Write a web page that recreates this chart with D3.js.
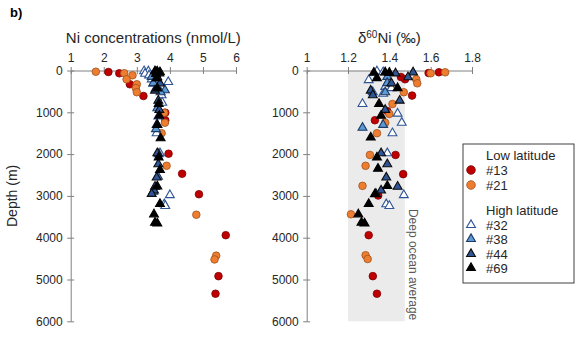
<!DOCTYPE html>
<html><head><meta charset="utf-8">
<script src="https://cdn.jsdelivr.net/npm/d3@7"></script>
<style>
body{margin:0;background:#fff;}
svg{display:block;font-family:"Liberation Sans",Arial,sans-serif;}
</style></head><body>
<svg id="c" width="584" height="339"></svg>
<script>
// ---- data: [depth (m), value] ----
const depthTicks = [0,1000,2000,3000,4000,5000,6000];
const niTicks = [1,2,3,4,5,6];
const isoTicks = [1,1.2,1.4,1.6,1.8];
const deepBand = [1.2,1.475];

const ni13 = [[36,2.14],[67,2.47],[330,2.79],[610,3.2],[1010,3.86],[1190,3.86],[1990,3.96],[2470,4.37],[2960,4.88],[3940,5.69],[4920,5.47],[5340,5.38]];
const ni21 = [[30,1.76],[65,2.62],[115,2.87],[210,2.69],[330,3.0],[420,2.97],[520,3.0],[1010,3.83],[1250,3.85],[1500,3.75],[2280,3.9],[3450,4.8],[4430,5.4],[4520,5.35]];
const ni32 = [[15,3.22],[20,3.35],[77,3.25],[115,3.37],[210,3.45],[275,3.95],[315,3.5],[435,3.57],[590,3.75],[770,3.77],[1100,3.65],[1300,3.62],[1500,3.6],[1980,3.7],[2980,4.0],[3200,3.83],[3240,3.86]];
const ni38 = [[150,3.45],[300,3.5],[470,3.85],[520,3.72],[900,3.62],[1300,3.6],[1400,3.58],[2000,3.66],[2540,3.64],[2900,3.5]];
const ni44 = [[40,3.6],[70,3.68],[160,3.62],[310,3.7],[480,3.55],[720,3.65],[940,3.68],[1980,3.62],[2240,3.65],[2560,3.6],[2780,3.55],[2870,3.52],[2950,3.45]];
const ni69 = [[15,3.55],[25,3.62],[40,3.7],[80,3.58],[190,3.6],[430,3.62],[800,3.66],[1080,3.68],[1300,3.62],[1620,3.72],[2080,3.66],[2380,3.7],[2770,3.62],[3190,3.7],[3440,3.52],[3640,3.55],[3660,3.62]];

const iso13 = [[43,1.64],[60,1.59],[155,1.456],[210,1.476],[600,1.51],[970,1.39],[1190,1.33],[2020,1.43],[2480,1.467],[2990,1.346],[3940,1.30],[4920,1.32],[5340,1.34]];
const iso21 = [[43,1.67],[67,1.60],[210,1.53],[306,1.535],[520,1.47],[800,1.415],[1040,1.40],[1250,1.38],[1500,1.34],[2020,1.306],[2280,1.285],[2760,1.27],[3440,1.214],[4420,1.285],[4510,1.295]];
const iso32 = [[20,1.34],[40,1.37],[230,1.30],[390,1.38],[420,1.41],[515,1.32],[555,1.37],[800,1.27],[1030,1.44],[1250,1.46],[1500,1.415],[1980,1.39],[2980,1.47],[3200,1.385],[3240,1.40]];
const iso38 = [[150,1.39],[300,1.39],[520,1.38],[1300,1.37],[1370,1.27]];
const iso44 = [[43,1.515],[67,1.43],[160,1.49],[306,1.41],[480,1.31],[590,1.32],[720,1.45],[940,1.38],[1980,1.36],[2240,1.39],[2560,1.385],[2780,1.44],[2870,1.36],[2950,1.335]];
const iso69 = [[43,1.38],[53,1.325],[55,1.40],[180,1.34],[420,1.44],[800,1.35],[1080,1.36],[1600,1.31],[2080,1.34],[2350,1.345],[2760,1.39],[2960,1.33],[3190,1.30],[3440,1.25],[3640,1.265],[3660,1.28]];

const stationNames = ["#13","#21","#32","#38","#44","#69"];
const groupLabels = ["Low latitude","High latitude"];

// ---- styles ----
const styles = {
  "#13":{shape:"circle",fill:"#C00000",stroke:"#7a0000"},
  "#21":{shape:"circle",fill:"#ED7D31",stroke:"#a0521c"},
  "#32":{shape:"tri",fill:"#ffffff",stroke:"#2F5597"},
  "#38":{shape:"tri",fill:"#5B9BD5",stroke:"#1f3864"},
  "#44":{shape:"tri",fill:"#2F5597",stroke:"#0d0d0d"},
  "#69":{shape:"tri",fill:"#000000",stroke:"#000000"}
};
const niSets = {"#13":ni13,"#21":ni21,"#32":ni32,"#38":ni38,"#44":ni44,"#69":ni69};
const isoSets = {"#13":iso13,"#21":iso21,"#32":iso32,"#38":iso38,"#44":iso44,"#69":iso69};

const svg = d3.select("#c");
const axisCol = "#808080", textCol = "#262626";

const y = d3.scaleLinear().domain([0,6000]).range([70.5,321.3]);
const xNi = d3.scaleLinear().domain([1,6]).range([70.7,236]);
const xIso = d3.scaleLinear().domain([1,1.8]).range([306.7,472]);

const tri = d3.symbol().type(d3.symbolTriangle).size(34);

function drawMarks(g, x, sets){
  stationNames.forEach(n=>{
    const st = styles[n];
    const data = sets[n];
    if(st.shape==="circle"){
      g.selectAll(null).data(data).join("circle")
        .attr("cx",d=>x(d[1])).attr("cy",d=>y(d[0])).attr("r",3.8)
        .attr("fill",st.fill).attr("stroke",st.stroke).attr("stroke-width",0.8);
    } else {
      g.selectAll(null).data(data).join("path")
        .attr("d",tri)
        .attr("transform",d=>`translate(${x(d[1])},${y(d[0])})`)
        .attr("fill",st.fill).attr("stroke",st.stroke).attr("stroke-width",1.1);
    }
  });
}

function drawAxes(x, ticks, fmt){
  const gx = svg.append("g").attr("transform",`translate(0,${y(0)})`)
    .call(d3.axisTop(x).tickValues(ticks).tickFormat(fmt).tickSizeInner(4).tickSizeOuter(0).tickPadding(5));
  gx.select(".domain").attr("stroke",axisCol);
  gx.selectAll(".tick line").attr("y1",3.5).attr("y2",-3.5).attr("stroke",axisCol);
  gx.selectAll(".tick text").attr("fill",textCol).style("font-size","12px").style("font-family","Liberation Sans, Arial, sans-serif");
  const gy = svg.append("g").attr("transform",`translate(${x.range()[0]},0)`)
    .call(d3.axisLeft(y).tickValues(depthTicks).tickFormat(d3.format("d")).tickSizeInner(4).tickSizeOuter(0).tickPadding(4));
  gy.select(".domain").attr("stroke",axisCol);
  gy.selectAll(".tick line").attr("x1",3.5).attr("x2",-3.5).attr("stroke",axisCol);
  gy.selectAll(".tick text").attr("fill",textCol).style("font-size","12px").style("font-family","Liberation Sans, Arial, sans-serif");
}

// grey band (right panel)
svg.append("rect")
  .attr("x",xIso(deepBand[0])).attr("y",y(0))
  .attr("width",xIso(deepBand[1])-xIso(deepBand[0]))
  .attr("height",y(6000)-y(0)).attr("fill","#ebebeb");
svg.append("text")
  .attr("transform",`translate(${xIso(deepBand[1])+4},${y(6000)-1}) rotate(90)`)
  .attr("text-anchor","end").attr("fill","#595959").style("font-size","12px")
  .text("Deep ocean average");

drawAxes(xNi, niTicks, d3.format("d"));
drawAxes(xIso, isoTicks, d=>d3.format("~g")(d));

drawMarks(svg.append("g"), xNi, niSets);
drawMarks(svg.append("g"), xIso, isoSets);

// titles
svg.append("text").attr("x",10).attr("y",17).style("font-size","13px").style("font-weight","bold").attr("fill","#000").text("b)");
svg.append("text").attr("x",(xNi.range()[0]+xNi.range()[1])/2).attr("y",43).attr("text-anchor","middle")
  .style("font-size","15px").attr("fill",textCol).text("Ni concentrations (nmol/L)");
const t2 = svg.append("text").attr("x",(xIso.range()[0]+xIso.range()[1])/2).attr("y",43).attr("text-anchor","middle")
  .style("font-size","15px").attr("fill",textCol);
t2.append("tspan").text("δ");
t2.append("tspan").attr("dy",-5).style("font-size","10px").text("60");
t2.append("tspan").attr("dy",5).text("Ni (‰)");
svg.append("text").attr("transform",`translate(17,${(y(0)+y(6000))/2}) rotate(-90)`).attr("text-anchor","middle")
  .style("font-size","14px").attr("fill",textCol).text("Depth (m)");

// legend
const lg = svg.append("g");
lg.append("rect").attr("x",463).attr("y",144).attr("width",111).attr("height",139)
  .attr("fill","#fff").attr("stroke","#404040").attr("stroke-width",1);
const legRows = [
  {label:groupLabels[0],y:155},
  {st:"#13",y:170},{st:"#21",y:185},
  {label:groupLabels[1],y:210},
  {st:"#32",y:225},{st:"#38",y:239},{st:"#44",y:254},{st:"#69",y:268}
];
legRows.forEach(r=>{
  if(r.st){
    const s = styles[r.st];
    if(s.shape==="circle"){
      lg.append("circle").attr("cx",471).attr("cy",r.y).attr("r",4.3).attr("fill",s.fill).attr("stroke",s.stroke).attr("stroke-width",0.8);
    } else {
      lg.append("path").attr("d",tri).attr("transform",`translate(471,${r.y})`).attr("fill",s.fill).attr("stroke",s.stroke).attr("stroke-width",1.1);
    }
  }
  lg.append("text").attr("x",486).attr("y",r.y).attr("dy","0.35em").style("font-size","13px").attr("fill",textCol)
    .text(r.label || r.st);
});
</script>
</body></html>
